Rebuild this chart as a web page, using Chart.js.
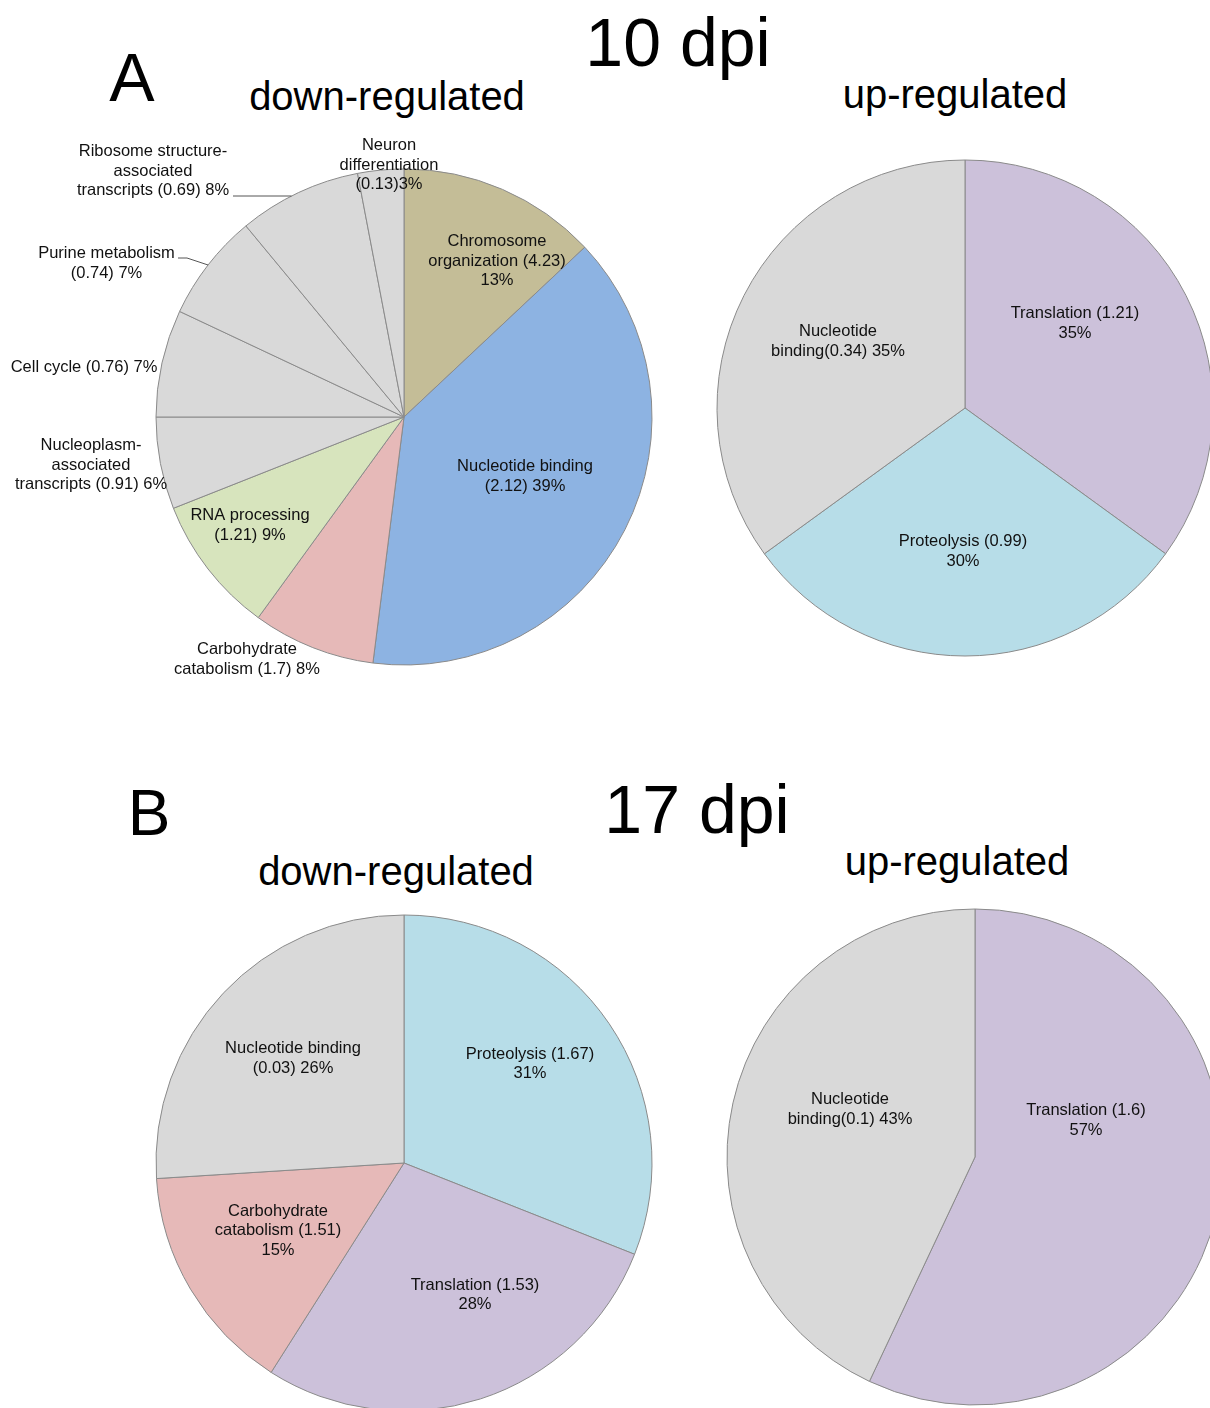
<!DOCTYPE html>
<html>
<head>
<meta charset="utf-8">
<script src="https://cdn.jsdelivr.net/npm/chart.js@4.4.1/dist/chart.umd.min.js"></script>
<style>
  html, body { margin: 0; padding: 0; background: #fff; }
  body { width: 1210px; height: 1408px; position: relative; overflow: hidden;
         font-family: "Liberation Sans", Arial, Helvetica, sans-serif; color: #000; }
  .t { position: absolute; white-space: nowrap; line-height: 1; text-align: center; }
  canvas { position: absolute; }
</style>
</head>
<body>

<div class="t" style="left:378px; top:8px; width:600px; font-size:68px;">10 dpi</div>
<div class="t" style="left:32px; top:43px; width:200px; font-size:68px;">A</div>
<div class="t" style="left:187px; top:76px; width:400px; font-size:40px;">down-regulated</div>
<div class="t" style="left:755px; top:74px; width:400px; font-size:40px;">up-regulated</div>

<div class="t" style="left:397px; top:775px; width:600px; font-size:68px;">17 dpi</div>
<div class="t" style="left:49px; top:781px; width:200px; font-size:64px;">B</div>
<div class="t" style="left:196px; top:851px; width:400px; font-size:40px;">down-regulated</div>
<div class="t" style="left:757px; top:841px; width:400px; font-size:40px;">up-regulated</div>

<canvas id="pieA1" width="808" height="580" style="left:0px; top:127px;"></canvas>
<canvas id="pieA2" width="520" height="520" style="left:705px; top:148px;"></canvas>
<canvas id="pieB1" width="808" height="520" style="left:0px; top:903px;"></canvas>
<canvas id="pieB2" width="520" height="520" style="left:715px; top:897px;"></canvas>

<script>
// ---- 10 dpi, down-regulated ----
const downA_categories = ['Chromosome organization', 'Nucleotide binding', 'Carbohydrate catabolism',
  'RNA processing', 'Nucleoplasm-associated transcripts', 'Cell cycle', 'Purine metabolism',
  'Ribosome structure-associated transcripts', 'Neuron differentiation'];
const downA_scores = [4.23, 2.12, 1.7, 1.21, 0.91, 0.76, 0.74, 0.69, 0.13];
const downA_percent = [13, 39, 8, 9, 6, 7, 7, 8, 3];

// ---- 10 dpi, up-regulated ----
const upA_categories = ['Translation', 'Proteolysis', 'Nucleotide binding'];
const upA_scores = [1.21, 0.99, 0.34];
const upA_percent = [35, 30, 35];

// ---- 17 dpi, down-regulated ----
const downB_categories = ['Proteolysis', 'Translation', 'Carbohydrate catabolism', 'Nucleotide binding'];
const downB_scores = [1.67, 1.53, 1.51, 0.03];
const downB_percent = [31, 28, 15, 26];

// ---- 17 dpi, up-regulated ----
const upB_categories = ['Translation', 'Nucleotide binding'];
const upB_scores = [1.6, 0.1];
const upB_percent = [57, 43];

// Label line templates: {s} = enrichment score, {p} = percentage
const downA_text = [
  ['Chromosome', 'organization ({s})', '{p}%'],
  ['Nucleotide binding', '({s}) {p}%'],
  ['Carbohydrate', 'catabolism ({s}) {p}%'],
  ['RNA processing', '({s}) {p}%'],
  ['Nucleoplasm-', 'associated', 'transcripts ({s}) {p}%'],
  ['Cell cycle ({s}) {p}%'],
  ['Purine metabolism', '({s}) {p}%'],
  ['Ribosome structure-', 'associated', 'transcripts ({s}) {p}%'],
  ['Neuron', 'differentiation', '({s}){p}%']
];
const upA_text = [
  ['Translation ({s})', '{p}%'],
  ['Proteolysis ({s})', '{p}%'],
  ['Nucleotide', 'binding({s}) {p}%']
];
const downB_text = [
  ['Proteolysis ({s})', '{p}%'],
  ['Translation ({s})', '{p}%'],
  ['Carbohydrate', 'catabolism ({s})', '{p}%'],
  ['Nucleotide binding', '({s}) {p}%']
];
const upB_text = [
  ['Translation ({s})', '{p}%'],
  ['Nucleotide', 'binding({s}) {p}%']
];

// Slice colours
const GREY = '#d9d9d9', TAN = '#c4bd97', BLUE = '#8db3e2', PINK = '#e6b9b8',
      GREEN = '#d7e4bd', LILAC = '#ccc1da', CYAN = '#b7dde8';

function fillLines(tpl, scores, pct) {
  return tpl.map((lines, i) => lines.map(l =>
    l.replace('{s}', String(scores[i])).replace('{p}', String(pct[i]))));
}

// Draws multi-line slice labels (offsets from the pie centre) and leader lines
const sliceLabels = {
  id: 'sliceLabels',
  afterDatasetsDraw(chart, args, opts) {
    const meta = chart.getDatasetMeta(0);
    const a0 = meta.data[0];
    const cx = a0.x, cy = a0.y, R = a0.outerRadius;
    const ctx = chart.ctx;
    ctx.save();
    ctx.font = '16.5px "Liberation Sans", Arial, sans-serif';
    ctx.fillStyle = '#111';
    ctx.textAlign = 'center';
    ctx.textBaseline = 'middle';
    const lh = 19.5;
    opts.lines.forEach((lines, i) => {
      const [dx, dy] = opts.anchors[i];
      const n = lines.length;
      lines.forEach((t, k) => ctx.fillText(t, cx + dx, cy + dy + 1 + (k - (n - 1) / 2) * lh));
    });
    ctx.strokeStyle = '#555';
    ctx.lineWidth = 1;
    (opts.leaders || []).forEach(L => {
      ctx.beginPath();
      ctx.moveTo(cx + L.from[0], cy + L.from[1]);
      if (L.mode === 'horizontal') {
        const dy = L.from[1];
        const ex = -Math.sqrt(R * R - dy * dy);
        ctx.lineTo(cx + ex, cy + dy);
      } else {
        ctx.lineTo(cx + L.elbow[0], cy + L.elbow[1]);
        const arc = meta.data[L.index];
        const mid = (arc.startAngle + arc.endAngle) / 2;
        ctx.lineTo(cx + R * Math.cos(mid), cy + R * Math.sin(mid));
      }
      ctx.stroke();
    });
    ctx.restore();
  }
};

function makePie(id, categories, values, colors, lines, anchors, leaders) {
  return new Chart(document.getElementById(id), {
    type: 'pie',
    data: {
      labels: categories,
      datasets: [{
        data: values,
        backgroundColor: colors,
        borderColor: '#8a8a8a',
        borderWidth: 1,
        hoverOffset: 0
      }]
    },
    options: {
      responsive: false,
      animation: false,
      events: [],
      radius: 248,
      layout: { padding: 0 },
      plugins: {
        legend: { display: false },
        tooltip: { enabled: false },
        sliceLabels: { lines, anchors, leaders }
      }
    },
    plugins: [sliceLabels]
  });
}

makePie('pieA1', downA_categories, downA_percent,
  [TAN, BLUE, PINK, GREEN, GREY, GREY, GREY, GREY, GREY],
  fillLines(downA_text, downA_scores, downA_percent),
  [[93, -157], [121, 58.5], [-157, 241.5], [-154, 107.5], [-313, 47],
   [-320, -51], [-297.5, -154.5], [-251, -247], [-15, -253]],
  [{ mode: 'horizontal', from: [-171, -221] },
   { mode: 'elbow', from: [-226, -159], elbow: [-217, -159], index: 6 }]);

makePie('pieA2', upA_categories, upA_percent,
  [LILAC, CYAN, GREY],
  fillLines(upA_text, upA_scores, upA_percent),
  [[110, -85.5], [-2, 142.5], [-127, -67.5]], []);

makePie('pieB1', downB_categories, downB_percent,
  [CYAN, LILAC, PINK, GREY],
  fillLines(downB_text, downB_scores, downB_percent),
  [[126, -100], [71, 131], [-126, 66.5], [-111, -105.5]], []);

makePie('pieB2', upB_categories, upB_percent,
  [LILAC, GREY],
  fillLines(upB_text, upB_scores, upB_percent),
  [[111, -37.5], [-125, -48.5]], []);
</script>
</body>
</html>
